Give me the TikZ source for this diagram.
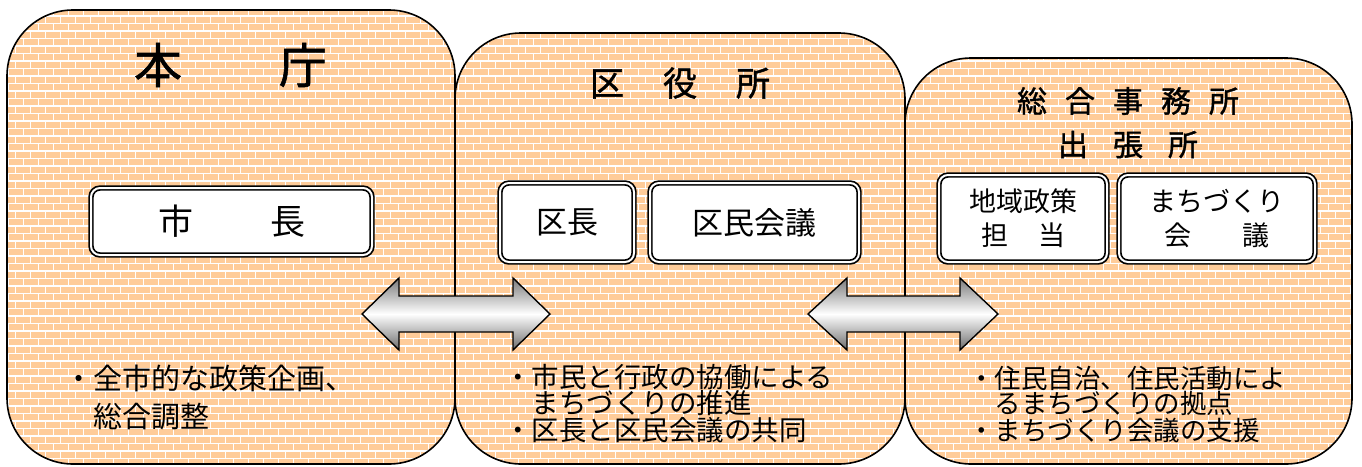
\documentclass[tikz,border=0pt]{standalone}
\usepackage{fontspec}
\setmainfont{Noto Sans CJK JP}
\newfontfamily\titlefont[FakeBold=1.2]{Noto Sans CJK JP}
\definecolor{brickfill}{RGB}{255,204,153}
\begin{document}
\begin{tikzpicture}[x=1pt,y=-1pt,
  panel/.style={draw=black, line width=1.6pt, rounded corners=66pt},
  mortar/.style={draw=white, line width=1.2pt},
  box/.style={draw=black, line width=1.7pt, double=white, double distance=2pt,
    rounded corners=9pt, fill=white, inner sep=0pt, align=center},
  title/.style={inner sep=0pt, text=black},
  desc/.style={anchor=west, inner sep=0pt, text=black},
  blockarrow/.style={draw=black, line width=1.4pt, line join=miter,
    top color=black!52, bottom color=black!58, middle color=white}
]
\useasboundingbox (0,0) rectangle (1362,466);

% brick background
\begin{scope}
  \clip[rounded corners=66pt] (7,10) rectangle (455,464)
        (455,33) rectangle (905,464) (905,58) rectangle (1352,464);
  \fill[brickfill] (0,0) rectangle (1362,466);
  \foreach \k in {0,...,62} {
    \draw[mortar] (0,\k*7.5+1) -- (1362,\k*7.5+1);
  }
  \foreach \k in {0,...,62} {
    \pgfmathsetmacro\ph{mod(\k,2)*7.5}
    \draw[draw=white, line width=7.5pt, dash pattern=on 1.2pt off 13.8pt, dash phase=\ph pt]
      (0,\k*7.5+4.75) -- (1362,\k*7.5+4.75);
  }
\end{scope}

% panel outlines
\draw[panel] (7,10) rectangle (455,464);
\draw[panel] (455,33) rectangle (905,464);
\draw[panel] (905,58) rectangle (1352,464);

% titles
\node[title, font=\titlefont\fontsize{48}{50}\selectfont] (t1) at (230.5,65) {本\hspace{97pt}庁};
\node[title, font=\titlefont\fontsize{34}{36}\selectfont] (t2) at (680,83) {区\hspace{39pt}役\hspace{39pt}所};
\node[title, font=\titlefont\fontsize{30}{32}\selectfont] (t3a) at (1128,101) {総\hspace{18pt}合\hspace{18pt}事\hspace{18pt}務\hspace{18pt}所};
\node[title, font=\titlefont\fontsize{30}{32}\selectfont] (t3b) at (1128,144.5) {出\hspace{25pt}張\hspace{25pt}所};

% inner boxes
\node[box, minimum width=281pt, minimum height=67pt, font=\fontsize{35}{40}\selectfont]
  (shicho) at (231.5,221.5) {市\hspace{77pt}長};
\node[box, minimum width=134pt, minimum height=79pt, font=\fontsize{31}{36}\selectfont]
  (kucho) at (567,222.5) {区長};
\node[box, minimum width=209pt, minimum height=79pt, font=\fontsize{31}{36}\selectfont]
  (kumin) at (754.5,222.5) {区民会議};
\node[box, minimum width=168pt, minimum height=87pt, font=\fontsize{27}{34}\selectfont]
  (chiiki) at (1023,218.5) {地域政策\\担\hspace{30pt}当};
\node[box, minimum width=196pt, minimum height=87pt, font=\fontsize{27}{34}\selectfont]
  (machi) at (1217,218.5) {まちづくり\\会\hspace{52pt}議};

% block arrows
\draw[blockarrow] (362,314) -- (399,278) -- (399,296) -- (513,296) -- (513,278)
  -- (550,314) -- (513,350) -- (513,332) -- (399,332) -- (399,350) -- cycle;
\draw[blockarrow] (808,314) -- (847,278) -- (847,296) -- (960,296) -- (960,278)
  -- (998,314) -- (960,350) -- (960,332) -- (847,332) -- (847,350) -- cycle;

% descriptions
\node[desc, font=\fontsize{29}{35}\selectfont] (d1a) at (64,378) {・全市的な政策企画、};
\node[desc, font=\fontsize{29}{35}\selectfont] (d1b) at (64,417) {　総合調整};

\node[desc, font=\fontsize{27.5}{30}\selectfont] (d2a) at (504,377) {・市民と行政の協働による};
\node[desc, font=\fontsize{27.5}{30}\selectfont] (d2b) at (504,403) {　まちづくりの推進};
\node[desc, font=\fontsize{27.5}{30}\selectfont] (d2c) at (504,430) {・区長と区民会議の共同};

\node[desc, font=\fontsize{26.5}{30}\selectfont] (d3a) at (968,378) {・住民自治、住民活動によ};
\node[desc, font=\fontsize{26.5}{30}\selectfont] (d3b) at (968,403) {　るまちづくりの拠点};
\node[desc, font=\fontsize{26.5}{30}\selectfont] (d3c) at (968,431) {・まちづくり会議の支援};
\end{tikzpicture}
\end{document}
